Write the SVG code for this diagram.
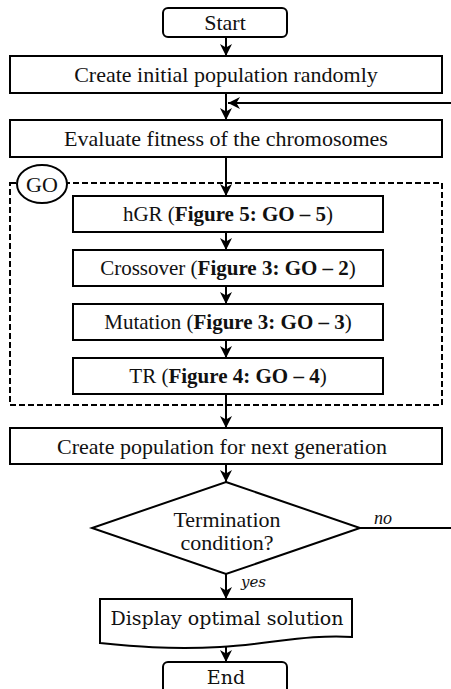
<svg xmlns="http://www.w3.org/2000/svg" width="451" height="689" viewBox="0 0 451 689">
  <style>
    .box { fill: #fff; stroke: #000; stroke-width: 2; }
    .t { font-family: "Liberation Serif", serif; font-size: 22px; fill: #111; text-anchor: middle; }
    .s { font-size: 21px; }
    .c { font-family: "DejaVu Serif", serif; font-size: 19px; fill: #111; text-anchor: middle; }
    .b { font-weight: bold; }
    .edge { stroke: #000; stroke-width: 2; fill: none; marker-end: url(#arrow); }
    .plain { stroke: #000; stroke-width: 2; fill: none; }
    .dash { fill: none; stroke: #000; stroke-width: 2; stroke-dasharray: 6 3; }
  </style>
  <defs>
    <marker id="arrow" viewBox="0 0 10 10" refX="10" refY="5" markerWidth="6" markerHeight="6" orient="auto" markerUnits="strokeWidth">
      <path d="M0,0 L10,5 L0,10 L3,5 z" fill="#000"/>
    </marker>
  </defs>

  <rect width="451" height="689" fill="#fff"/>

  <!-- genetic operators region -->
  <g id="go-region">
    <rect class="dash" x="10" y="183" width="432" height="222"/>
    <ellipse cx="42" cy="184" rx="25" ry="19" fill="#fff" stroke="#000" stroke-width="2"/>
    <text class="t" x="42" y="192">GO</text>
  </g>

  <g id="connectors">
    <line class="edge" x1="226" y1="37" x2="226" y2="56"/>
    <line class="edge" x1="226" y1="93" x2="226" y2="120"/>
    <line class="edge" x1="451" y1="103" x2="228" y2="103"/>
    <line class="edge" x1="226" y1="157" x2="226" y2="196"/>
    <line class="edge" x1="226" y1="232" x2="226" y2="250"/>
    <line class="edge" x1="226" y1="286" x2="226" y2="304"/>
    <line class="edge" x1="226" y1="340" x2="226" y2="358"/>
    <line class="edge" x1="226" y1="394" x2="226" y2="428"/>
    <line class="edge" x1="226" y1="464" x2="226" y2="482"/>
    <line class="edge" x1="226" y1="574" x2="226" y2="599"/>
    <line class="plain" x1="360" y1="528" x2="451" y2="528"/>
    <line class="edge" x1="226" y1="647" x2="226" y2="662"/>
    <text x="374" y="524" font-family="Liberation Serif, serif" font-style="italic" font-size="18" fill="#111">no</text>
    <text x="241" y="587" font-family="DejaVu Serif, serif" font-style="italic" font-size="15" fill="#111">yes</text>
  </g>

  <g id="start">
    <rect class="box" x="163" y="8" width="124" height="29" rx="5"/>
    <text class="t" x="225" y="30">Start</text>
  </g>

  <g id="init">
    <rect class="box" x="10" y="56" width="432" height="37"/>
    <text class="t" x="226" y="82">Create initial population randomly</text>
  </g>

  <g id="evaluate">
    <rect class="box" x="10" y="120" width="432" height="37"/>
    <text class="t" x="226" y="146">Evaluate fitness of the chromosomes</text>
  </g>

  <g id="hgr">
    <rect class="box" x="73" y="196" width="310" height="36"/>
    <text class="t s" x="228" y="221">hGR (<tspan class="b">Figure 5: GO – 5</tspan>)</text>
  </g>

  <g id="crossover">
    <rect class="box" x="73" y="250" width="310" height="36"/>
    <text class="t s" x="228" y="275">Crossover (<tspan class="b">Figure 3: GO – 2</tspan>)</text>
  </g>

  <g id="mutation">
    <rect class="box" x="73" y="304" width="310" height="36"/>
    <text class="t s" x="228" y="329">Mutation (<tspan class="b">Figure 3: GO – 3</tspan>)</text>
  </g>

  <g id="tr">
    <rect class="box" x="73" y="358" width="310" height="36"/>
    <text class="t s" x="228" y="383">TR (<tspan class="b">Figure 4: GO – 4</tspan>)</text>
  </g>

  <g id="next-gen">
    <rect class="box" x="10" y="428" width="432" height="36"/>
    <text class="t" x="222" y="454">Create population for next generation</text>
  </g>

  <g id="termination">
    <polygon class="box" points="226,482 360,528 226,574 92,528"/>
    <text class="t" x="227" y="527">Termination</text>
    <text class="t" x="227" y="550">condition?</text>
  </g>

  <g id="display">
    <path class="box" d="M100,599 H352 V637 C310,634 270,644 220,647 C170,650 130,646 100,643 Z"/>
    <text class="c" x="227" y="625">Display optimal solution</text>
  </g>

  <g id="end">
    <rect class="box" x="163" y="662" width="124" height="34" rx="5"/>
    <text class="c" x="226" y="684">End</text>
  </g>
</svg>
